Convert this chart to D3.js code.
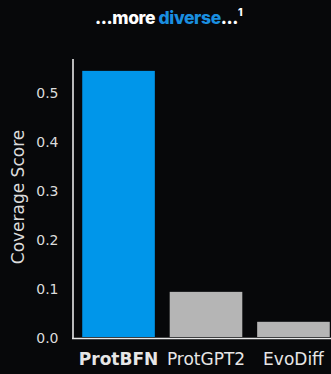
<!DOCTYPE html>
<html>
<head>
<meta charset="utf-8">
<script src="https://cdn.jsdelivr.net/npm/d3@7"></script>
<style>
  html, body { margin: 0; padding: 0; background: #07080a; }
  svg { display: block; }
</style>
</head>
<body>
<svg id="chart" width="331" height="374"></svg>
<script>
const categories = ["ProtBFN", "ProtGPT2", "EvoDiff"];
const values = [0.545, 0.095, 0.034];
const barColors = ["#0096ea", "#b5b5b5", "#b5b5b5"];
const yTicks = [0.0, 0.1, 0.2, 0.3, 0.4, 0.5];
const yLabel = "Coverage Score";

const svg = d3.select("#chart");
const W = 331, H = 374;
svg.append("rect").attr("width", W).attr("height", H).attr("fill", "#07080a");

const x = d3.scaleBand().domain(categories).range([72, 340]).paddingInner(0.17).paddingOuter(0.117);
const y = d3.scaleLinear().domain([0, 0.57]).range([338.5, 58.6]);

// bars
svg.append("g").selectAll("rect").data(categories).join("rect")
  .attr("x", d => x(d))
  .attr("width", x.bandwidth())
  .attr("y", (d, i) => y(values[i]))
  .attr("height", (d, i) => y(0) - y(values[i]) - 1.5)
  .attr("fill", (d, i) => barColors[i]);

// y axis
const yAxis = d3.axisLeft(y).tickValues(yTicks).tickFormat(d3.format(".1f")).tickSize(0).tickPadding(14);
const gy = svg.append("g").attr("transform", "translate(72.5,0)").call(yAxis);
gy.select(".domain").attr("stroke", "#e8e8e8").attr("stroke-width", 1.6);
gy.selectAll("text").attr("fill", "#dcdcdc").attr("font-family", "DejaVu Sans").attr("font-size", 14);

// x axis
const xAxis = d3.axisBottom(x).tickSize(0).tickPadding(14);
const gx = svg.append("g").attr("transform", "translate(0,338.5)").call(xAxis);
gx.select(".domain").attr("stroke", "#e8e8e8").attr("stroke-width", 1.6).attr("d", "M72,0H331");
gx.selectAll("text").attr("fill", "#e6e6e6").attr("font-family", "DejaVu Sans").attr("font-size", 17)
  .attr("font-weight", d => d === "ProtBFN" ? "bold" : "normal");

// y label
svg.append("text")
  .attr("transform", "translate(24,197) rotate(-90)")
  .attr("text-anchor", "middle")
  .attr("fill", "#dcdcdc")
  .attr("font-family", "DejaVu Sans")
  .attr("font-size", 17)
  .text(yLabel);

// title
const t = svg.append("text")
  .attr("x", 95).attr("y", 23.5)
  .attr("font-family", "Inter, sans-serif")
  .attr("font-weight", 800)
  .attr("font-size", 17.5)
  .attr("letter-spacing", -0.4)
  .attr("fill", "#ffffff");
t.append("tspan").text("...more ");
t.append("tspan").attr("fill", "#1a8fe0").text("diverse");
t.append("tspan").text("...");
t.append("tspan").attr("font-size", 10.5).attr("dy", -7.5).text("1");
</script>
</body>
</html>
